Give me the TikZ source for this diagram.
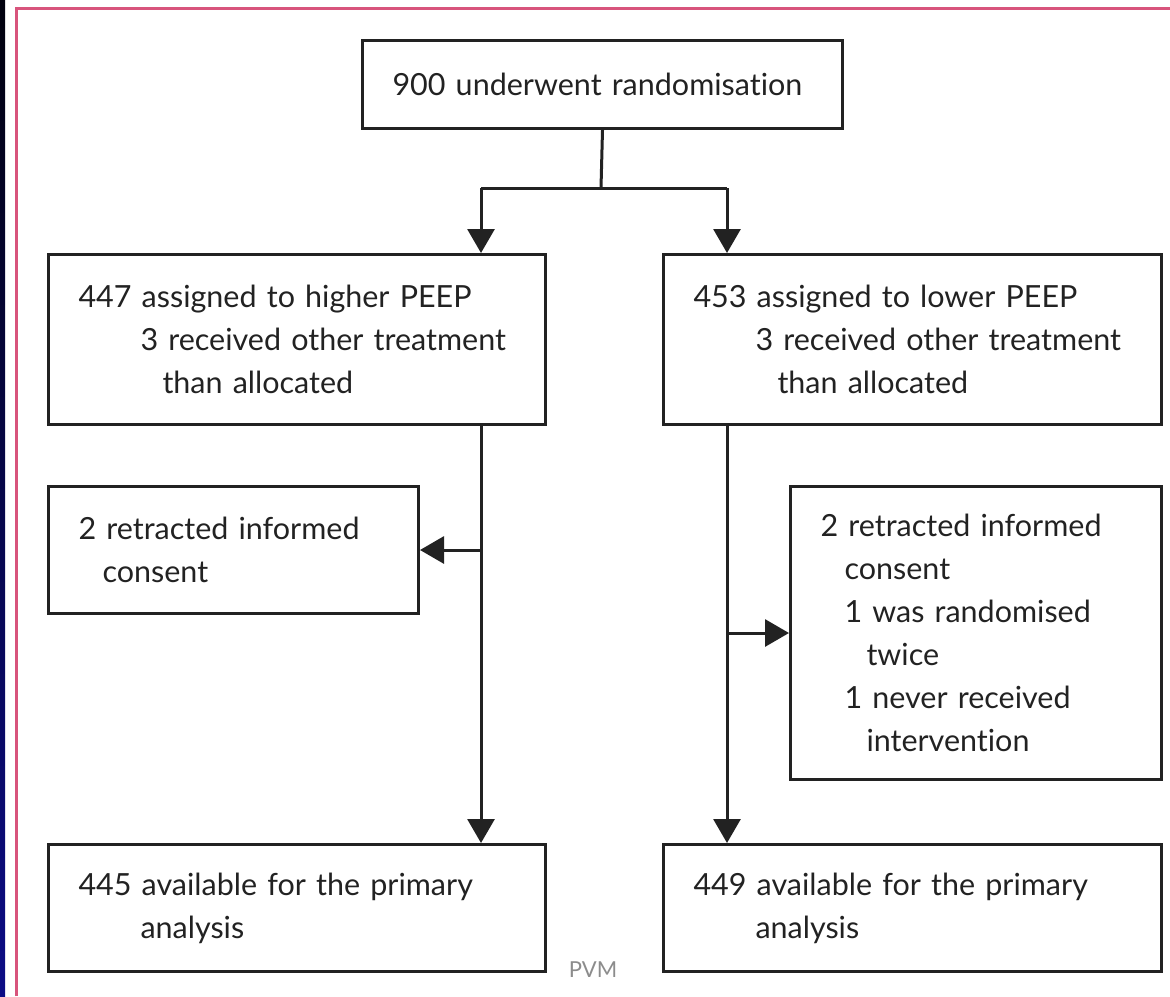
\documentclass[tikz,border=0pt]{standalone}
\usepackage{fontspec}
\setmainfont[WordSpace=0.8, Ligatures={NoCommon,NoRare}]{Lato}
\usetikzlibrary{arrows.meta}
\hyphenpenalty=10000

\definecolor{ink}{HTML}{222222}
\definecolor{frame}{HTML}{D8547C}
\definecolor{navy}{HTML}{0C0C86}

\tikzset{
  box/.style={draw=ink, line width=3pt, rectangle, inner xsep=30pt, inner ysep=0pt,
    align=left, anchor=north west, text=ink,
    font=\fontsize{30.5}{43}\selectfont},
  arr/.style={draw=ink, line width=3pt, -{Triangle[width=27pt,length=24pt]}},
  link/.style={draw=ink, line width=3pt},
}

\begin{document}
\begin{tikzpicture}[x=1pt,y=-1pt]
\useasboundingbox (0,0) rectangle (1170,996);
% page edge
\shade[top color=black!90!navy, bottom color=navy] (0,0) rectangle (5,996);
\draw[frame, line width=3pt] (16,996) -- (16,8) -- (1170,8);

% boxes
\node[box, minimum width=480pt, minimum height=88pt, text width=420pt] (rand) at (361,39)
  {900 underwent randomisation};
\node[box, minimum width=497pt, minimum height=170pt, text width=437pt] (higher) at (47,253)
  {447 assigned to higher PEEP\\
   \hspace*{62pt}3 received other treatment\\
   \hspace*{84pt}than allocated};
\node[box, minimum width=498pt, minimum height=170pt, text width=438pt] (lower) at (662,253)
  {453 assigned to lower PEEP\\
   \hspace*{62pt}3 received other treatment\\
   \hspace*{84pt}than allocated};
\node[box, minimum width=370pt, minimum height=127pt, text width=310pt] (exclhigh) at (47,485)
  {2 retracted informed\\
   \hspace*{24pt}consent};
\node[box, minimum width=371pt, minimum height=293pt, text width=311pt] (excllow) at (789,485)
  {2 retracted informed\\
   \hspace*{24pt}consent\\
   \hspace*{24pt}1 was randomised\\
   \hspace*{46pt}twice\\
   \hspace*{24pt}1 never received\\
   \hspace*{46pt}intervention};
\node[box, minimum width=497pt, minimum height=127pt, text width=437pt] (anahigh) at (47,843)
  {445 available for the primary\\
   \hspace*{62pt}analysis};
\node[box, minimum width=498pt, minimum height=127pt, text width=438pt] (analow) at (662,843)
  {449 available for the primary\\
   \hspace*{62pt}analysis};
\node[text=black!45, font=\fontsize{22}{26}\selectfont] (mark) at (593,970) {PVM};

% connectors
\coordinate (fork) at (601,188);
\coordinate (lstem) at (481,188);
\coordinate (rstem) at (727,188);
\draw[link] (rand.south) -- (fork);
\draw[link] (lstem) -- (rstem);
\draw[arr] (lstem) -- (lstem |- higher.north);
\draw[arr] (rstem) -- (rstem |- lower.north);
\draw[arr] (lstem |- higher.south) -- (lstem |- anahigh.north);
\draw[arr] (lstem |- exclhigh.east) -- (exclhigh.east);
\draw[arr] (rstem |- lower.south) -- (rstem |- analow.north);
\draw[arr] (rstem |- excllow.west) -- (excllow.west);
\end{tikzpicture}
\end{document}
